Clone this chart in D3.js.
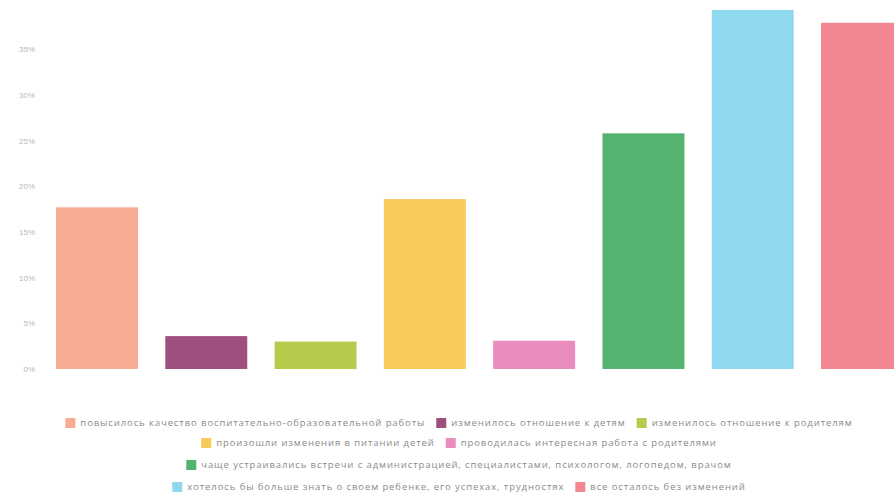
<!DOCTYPE html>
<html>
<head>
<meta charset="utf-8">
<script src="https://cdn.jsdelivr.net/npm/d3@7"></script>
<style>
  body { margin: 0; background: #fff; }
  svg { display: block; font-family: "Open Sans", sans-serif; }
</style>
</head>
<body>
<svg id="chart" width="894" height="497"></svg>
<script>
// Données
const categories = [
  "повысилось качество воспитательно-образовательной работы",
  "изменилось отношение к детям",
  "изменилось отношение к родителям",
  "произошли изменения в питании детей",
  "проводилась интересная работа с родителями",
  "чаще устраивались встречи с администрацией, специалистами, психологом, логопедом, врачом",
  "хотелось бы больше знать о своем ребенке, его успехах, трудностях",
  "все осталось без изменений"
];
const values = [17.7, 3.6, 3.0, 18.6, 3.1, 25.8, 39.3, 37.9];
const colors = ["#f7ab93", "#9e4f7e", "#b4cb4c", "#f8ca5a", "#ea8dbd", "#55b370", "#8ed9ee", "#f38691"];
const yTicks = [0, 5, 10, 15, 20, 25, 30, 35];
// regroupement des entrées de légende par ligne
const legendRows = [[0, 1, 2], [3, 4], [5], [6, 7]];

const width = 894;
const height = 497;
const margin = { top: 10, left: 56, bottom: 128 };
const plotH = height - margin.top - margin.bottom;

const svg = d3.select("#chart");

// Échelles
const scaleY = d3.scaleLinear()
  .domain([0, 39.3])
  .range([margin.top + plotH, margin.top]);

// la dernière barre déborde à droite, comme sur l'original
const scaleX = d3.scaleBand()
  .domain(d3.range(categories.length))
  .range([margin.left, margin.left + 847])
  .paddingInner(0.25)
  .paddingOuter(0);

// Axe Y (labels seulement)
const yAxis = svg.append("g")
  .attr("transform", `translate(38, 0)`)
  .call(d3.axisLeft(scaleY).tickValues(yTicks).tickFormat(d => d + "%").tickSize(0))
  .call(g => g.select(".domain").remove());
yAxis.selectAll("text")
  .attr("fill", "#b8b8b8")
  .attr("font-size", "8px");

// Barres
svg.append("g")
  .selectAll("rect")
  .data(values)
  .join("rect")
  .attr("x", (d, i) => scaleX(i))
  .attr("y", d => scaleY(d))
  .attr("width", scaleX.bandwidth())
  .attr("height", d => scaleY(0) - scaleY(d))
  .attr("fill", (d, i) => colors[i]);

// Légende
const rowY = [423, 443, 465, 487];
const sq = 10;
const gap = 5;
const itemGap = 11;
legendRows.forEach((row, r) => {
  const g = svg.append("g");
  let x = 0;
  row.forEach(i => {
    g.append("rect")
      .attr("x", x).attr("y", rowY[r] - sq / 2)
      .attr("width", sq).attr("height", sq)
      .attr("fill", colors[i]);
    const t = g.append("text")
      .attr("x", x + sq + gap).attr("y", rowY[r])
      .attr("dy", "0.35em")
      .attr("font-size", "9.5px")
      .attr("letter-spacing", "0.9px")
      .attr("fill", "#8a8a8a")
      .text(categories[i]);
    x += sq + gap + t.node().getComputedTextLength() + itemGap;
  });
  const w = x - itemGap;
  g.attr("transform", `translate(${(width - w) / 2 + 12}, 0)`);
});
</script>
</body>
</html>
